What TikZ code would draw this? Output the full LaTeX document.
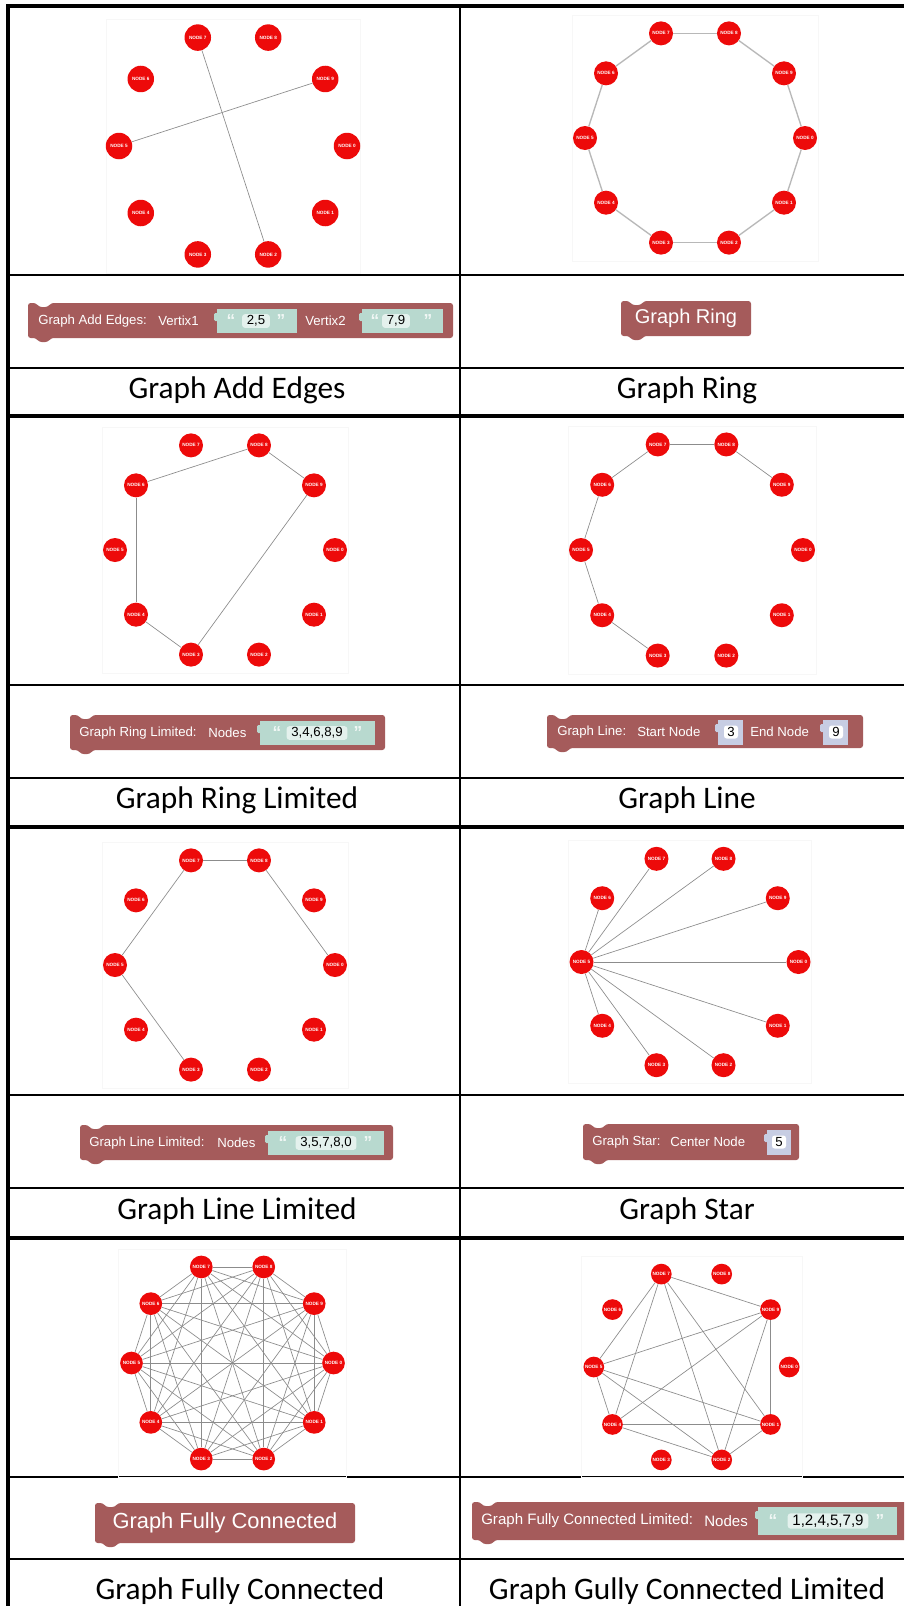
\documentclass[tikz,border=0pt]{standalone}
\usepackage{fontspec}
\setmainfont{Carlito}
\newfontfamily\blockfont{Liberation Sans}
\usepackage{xcolor}
\usetikzlibrary{calc}

\definecolor{nodered}{RGB}{237,10,10}
\definecolor{blockred}{RGB}{165,91,91}
\definecolor{textin}{RGB}{184,217,207}
\definecolor{textfield}{RGB}{228,241,237}
\definecolor{numin}{RGB}{199,205,227}

% ten nodes on a circle: prefix, centre x, centre y, radius, node size
\newcommand{\decagon}[5]{%
  \draw[shotframe] ({#2-#4-13},{#3-#4-13}) rectangle ({#2+#4+13},{#3+#4+13});
  \foreach \i in {0,...,9}
    \node[gnode, minimum size=#5*0.75pt] (#1\i) at ({#2+#4*cos(36*\i)},{#3+#4*sin(36*\i)}) {NODE \i};
}
% blockly block: x0, y0, x1, y1
\newcommand{\blockbody}[4]{%
  \fill[blockred, rounded corners=2pt] (#1,#2) -- ({#1+8},#2) -- ({#1+11},{#2+4}) -- ({#1+20},{#2+4})
    -- ({#1+23},#2) -- (#3,#2) -- (#3,#4) -- ({#1+23},#4) -- ({#1+20},{#4+4}) -- ({#1+11},{#4+4})
    -- ({#1+8},#4) -- (#1,#4) -- cycle;
}
% input socket: colour, x0, y0, x1, y1
\newcommand{\socket}[5]{%
  \fill[#1] (#2,#3) rectangle (#4,#5);
  \fill[#1, rounded corners=1pt] ({#2-3},{#3+4}) rectangle ({#2+1},{#3+12});
}

\begin{document}
\begin{tikzpicture}[x=0.75pt, y=-0.75pt,
  gnode/.style={circle, fill=nodered, inner sep=0pt, text=white, font=\blockfont\bfseries\fontsize{3.5}{4}\selectfont},
  gedge/.style={draw=black!45, line width=0.5pt},
  ringedge/.style={draw=black!28, line width=1pt},
  shotframe/.style={draw=black!3, line width=0.4pt},
  thickrule/.style={line width=2.4pt},
  midrule/.style={line width=1.6pt},
  thinrule/.style={line width=1.1pt},
  btext/.style={text=white, anchor=west, inner sep=0pt, font=\blockfont\fontsize{9.9}{12}\selectfont},
  bigtext/.style={btext, font=\blockfont\fontsize{11.3}{14}\selectfont},
  field/.style={fill=textfield, rounded corners=2pt, inner xsep=3.5pt, inner ysep=1pt, minimum height=9.75pt, font=\blockfont\fontsize{9.9}{12}\selectfont},
  numfield/.style={field, fill=white, inner xsep=2.5pt},
  qmark/.style={text=white!80!textin, inner sep=0pt, font=\blockfont\bfseries\fontsize{13}{13}\selectfont},
  captext/.style={anchor=base, inner sep=0pt, font=\fontsize{23.5}{28}\selectfont}]
\useasboundingbox (0,0) rectangle (904,1606);
\clip (0,0) rectangle (904,1606);
\fill[white] (0,0) rectangle (904,1606);

% table rules
\draw[thickrule] (8,1606) -- (8,6) -- (904,6);
\draw[midrule] (460,6) -- (460,1606);
\foreach \y in {416,827,1238} \draw[thickrule] (8,\y) -- (904,\y);
\foreach \y in {368,778,1188,1559} \draw[midrule] (8,\y) -- (904,\y);
\foreach \y in {275,685,1095,1477} \draw[thinrule] (8,\y) -- (904,\y);

% graphs
\decagon{a}{233}{146}{114}{26.5}
\foreach \u/\v in {2/7,5/9} \draw[gedge] (a\u) -- (a\v);

\decagon{b}{695}{138}{110}{24}
\foreach \u/\v in {0/1,1/2,2/3,3/4,4/5,5/6,6/7,7/8,8/9,9/0} \draw[ringedge] (b\u) -- (b\v);

\decagon{c}{225}{550}{110}{24}
\foreach \u/\v in {3/4,4/6,6/8,8/9,9/3} \draw[gedge] (c\u) -- (c\v);

\decagon{d}{692}{550}{111}{24}
\foreach \u/\v in {3/4,4/5,5/6,6/7,7/8,8/9} \draw[gedge] (d\u) -- (d\v);

\decagon{e}{225}{965}{110}{24}
\foreach \u/\v in {3/5,5/7,7/8,8/0} \draw[gedge] (e\u) -- (e\v);

\decagon{f}{690}{962}{108.5}{24}
\foreach \v in {0,1,2,3,4,6,7,8,9} \draw[gedge] (f5) -- (f\v);

\decagon{g}{232.5}{1363}{101}{22.7}
\foreach \u in {0,...,9} {\foreach \v in {0,...,9} {\ifnum\u<\v \draw[gedge] (g\u) -- (g\v);\fi}}

\decagon{h}{691.5}{1367}{97.7}{20.7}
\foreach \u/\v in {1/2,1/4,1/5,1/7,1/9,2/4,2/5,2/7,2/9,4/5,4/7,4/9,5/7,5/9,7/9} \draw[gedge] (h\u) -- (h\v);

% blocks
\blockbody{28}{303}{453}{338}
\node[btext] (aname) at (38,321) {Graph Add Edges:};
\node[btext] (avx1) at (158,321) {Vertix1};
\socket{textin}{217}{309}{297}{333}
\node[qmark] (aq1) at (231,321) {“};
\node[field] (af1) at (256,321) {2,5};
\node[qmark] (aq2) at (281,321) {”};
\node[btext] (avx2) at (305,321) {Vertix2};
\socket{textin}{362}{309}{443}{333}
\node[qmark] (aq3) at (375,321) {“};
\node[field] (af2) at (396,321) {7,9};
\node[qmark] (aq4) at (428,321) {”};

\blockbody{621}{301}{751}{336}
\node[btext, anchor=center, font=\blockfont\fontsize{15}{18}\selectfont] (bname) at (686,318) {Graph Ring};

\blockbody{70}{715}{385}{750}
\node[btext] (cname) at (79,733) {Graph Ring Limited:};
\node[btext] (cnodes) at (208,733) {Nodes};
\socket{textin}{260}{721}{375}{745}
\node[qmark] (cq1) at (277,733) {“};
\node[field] (cf) at (317,733) {3,4,6,8,9};
\node[qmark] (cq2) at (358,733) {”};

\blockbody{547}{715}{863}{748}
\node[btext] (dname) at (557,732) {Graph Line:};
\node[btext] (dstart) at (637,732) {Start Node};
\socket{numin}{718}{720}{743}{745}
\node[numfield] (df1) at (731,732) {3};
\node[btext] (dend) at (750,732) {End Node};
\socket{numin}{823}{720}{848}{745}
\node[numfield] (df2) at (836,732) {9};

\blockbody{80}{1125}{393}{1160}
\node[btext] (ename) at (89,1143) {Graph Line Limited:};
\node[btext] (enodes) at (217,1143) {Nodes};
\socket{textin}{268}{1131}{384}{1155}
\node[qmark] (eq1) at (283,1143) {“};
\node[field] (ef) at (326,1143) {3,5,7,8,0};
\node[qmark] (eq2) at (368,1143) {”};

\blockbody{583}{1124}{799}{1160}
\node[btext] (fname) at (592,1142) {Graph Star:};
\node[btext] (fcentre) at (670,1142) {Center Node};
\socket{numin}{767}{1130}{791}{1155}
\node[numfield] (ff) at (779,1142) {5};

\blockbody{95}{1503}{355}{1543}
\node[btext, anchor=center, font=\blockfont\fontsize{16.4}{19}\selectfont] (gname) at (225,1523) {Graph Fully Connected};

\blockbody{472}{1502}{915}{1540}
\node[bigtext] (hname) at (481,1521) {Graph Fully Connected Limited:};
\node[bigtext] (hnodes) at (704,1521) {Nodes};
\socket{textin}{758}{1507}{897}{1535}
\node[qmark] (hq1) at (773,1521) {“};
\node[field, font=\blockfont\fontsize{11.3}{14}\selectfont] (hf) at (828,1521) {1,2,4,5,7,9};
\node[qmark] (hq2) at (880,1521) {”};

% captions
\node[captext] (t1) at (237,398) {Graph Add Edges};
\node[captext] (t2) at (687,398) {Graph Ring};
\node[captext] (t3) at (237,808) {Graph Ring Limited};
\node[captext] (t4) at (687,808) {Graph Line};
\node[captext] (t5) at (237,1219) {Graph Line Limited};
\node[captext] (t6) at (687,1219) {Graph Star};
\node[captext] (t7) at (240,1599) {Graph Fully Connected};
\node[captext] (t8) at (687,1599) {Graph Gully Connected Limited};
\end{tikzpicture}
\end{document}
